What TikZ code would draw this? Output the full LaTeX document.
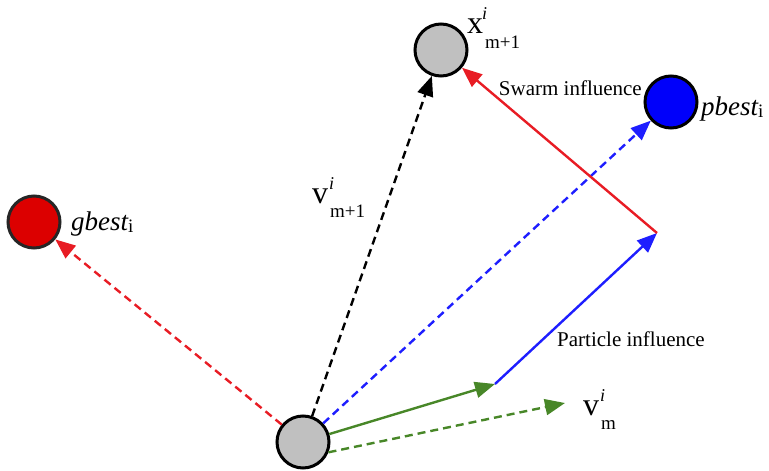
\documentclass[tikz,border=0pt]{standalone}
\usepackage{fontspec}
\setmainfont{Liberation Serif}
\usetikzlibrary{arrows.meta}
\definecolor{cred}{RGB}{232,28,36}
\definecolor{cblue}{RGB}{30,30,255}
\definecolor{cgreen}{RGB}{72,135,40}
\definecolor{cgray}{RGB}{192,192,192}
\definecolor{cfillred}{RGB}{220,0,0}
\definecolor{cfillblue}{RGB}{0,0,250}
\newcommand\slab[4][0pt]{{\fontsize{32}{32}\selectfont #2}\rlap{\kern#1\raisebox{14pt}{\fontsize{18}{18}\selectfont\itshape #3}}\kern2pt\raisebox{-14pt}{\fontsize{19}{19}\selectfont #4}}
\begin{document}
\begin{tikzpicture}[x=1pt,y=-1pt,
  ball/.style={circle,draw=black,line width=3pt,minimum size=52pt,inner sep=0pt},
  vec/.style={line width=2.4pt,-{Triangle[length=20pt,width=16pt]}},
  dsh/.style={dash pattern=on 8pt off 5pt},
  lbl/.style={inner sep=0pt,anchor=base west,font=\fontsize{21}{21}\selectfont}]
\useasboundingbox (0,0) rectangle (769,471);
% circles
\node[ball,fill=cgray] (p) at (303,442) {};
\node[ball,fill=cgray] (xm) at (441,50) {};
\node[ball,fill=cfillblue] (pb) at (671,102) {};
\node[ball,fill=cfillred,draw=black!85] (gb) at (34,222) {};
% turning points
\coordinate (g1) at (495,384);
\coordinate (g2) at (565,403);
\coordinate (c) at (657,233);
% dashed vectors
\draw[vec,dsh,cred] (p) -- (gb);
\draw[vec,dsh,black] (p) -- (xm);
\draw[vec,dsh,cblue] (p) -- (pb);
\draw[vec,dsh,cgreen] (p.-22) -- (g2);
% solid vectors
\draw[vec,cgreen] (p) -- (g1);
\draw[vec,cblue] (g1) -- (c);
\draw[vec,cred] (c) -- (xm);
% labels
\node[lbl] (xl) at (467,34) {\slab[-1pt]{x}{i}{m+1}};
\node[lbl] (vl) at (312,203) {\slab[1pt]{v}{i}{m+1}};
\node[lbl] (vml) at (583,415) {\slab[1pt]{v}{i}{m}};
\node[lbl,anchor=base east] (sw) at (642,95) {Swarm influence};
\node[lbl] (pi) at (557,346) {Particle influence};
\node[lbl] (gl) at (71,230) {{\fontsize{27}{27}\selectfont\itshape gbest}\raisebox{-2pt}{\fontsize{19}{19}\selectfont i}};
\node[lbl] (pl) at (701,115) {{\fontsize{27}{27}\selectfont\itshape pbest}\raisebox{-2pt}{\fontsize{19}{19}\selectfont i}};
\end{tikzpicture}
\end{document}
